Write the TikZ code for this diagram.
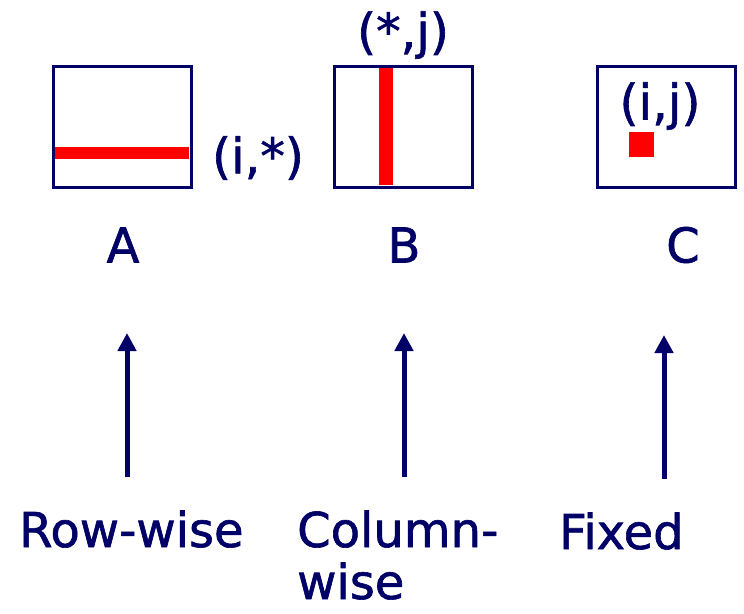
\documentclass[tikz,border=0pt]{standalone}
\usepackage{fontspec}
\setmainfont{DejaVu Sans}
\newfontfamily\cf[FakeBold=1.3]{DejaVu Sans}
\usetikzlibrary{arrows.meta}
\definecolor{nv}{RGB}{0,0,102}
\begin{document}
\begin{tikzpicture}[x=1pt,y=-1pt,
  matbox/.style={draw=nv,line width=3pt,inner sep=0pt,minimum width=138pt,minimum height=121pt},
  lbl/.style={text=nv,inner sep=0pt,font=\cf\fontsize{48}{56}\selectfont},
  plbl/.style={text=nv,inner sep=0pt,font=\cf\fontsize{49}{56}\selectfont},
  uparrow/.style={draw=nv,line width=5pt,-{Triangle[length=18pt,width=18pt]}}]
\useasboundingbox (0,0) rectangle (744,613);
% boxes
\node[matbox] (A) at (122,126.5) {};
\node[matbox] (B) at (403,126.5) {};
\node[matbox] (C) at (666,126.5) {};
% red marks
\fill[red] (55,147) rectangle (189,159);
\fill[red] (379,68) rectangle (393,185);
\fill[red] (629,132) rectangle (654,157);
% index labels
\node[plbl] (ri) at (258,158) {(i,*)};
\node[plbl] (cj) at (403,35) {(*,j)};
\node[plbl] (ij) at (660,106) {(i,j)};
% matrix names
\node[lbl] (nA) at (123,245) {A};
\node[lbl] (nB) at (404,245) {B};
\node[lbl] (nC) at (683,245) {C};
% arrows
\coordinate (a1s) at (127,477); \coordinate (a1e) at (127,333);
\coordinate (a2s) at (404,477); \coordinate (a2e) at (404,333);
\coordinate (a3s) at (664,479); \coordinate (a3e) at (664,335);
\draw[uparrow] (a1s) -- (a1e);
\draw[uparrow] (a2s) -- (a2e);
\draw[uparrow] (a3s) -- (a3e);
% bottom labels
\node[lbl,anchor=base west] (rw) at (19,547) {Row-wise};
\node[lbl,anchor=base west] (cw1) at (297,547) {Column-};
\node[lbl,anchor=base west] (cw2) at (297,599) {wise};
\node[lbl,anchor=base west] (fx) at (559,549) {Fixed};
\end{tikzpicture}
\end{document}
